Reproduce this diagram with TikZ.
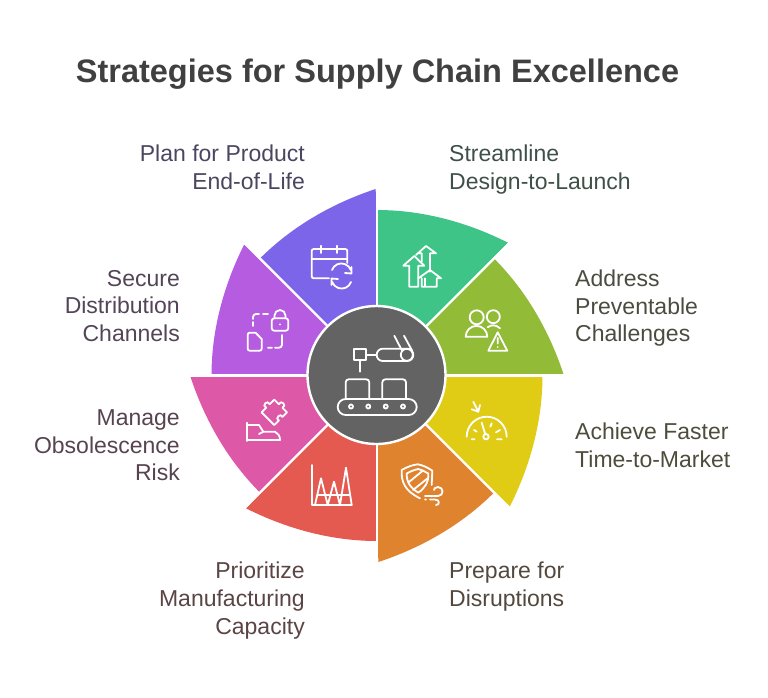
\documentclass[tikz,border=0pt]{standalone}
\usepackage{fontspec}
\setmainfont{Liberation Sans}
\definecolor{pgreen}{HTML}{3EC486}
\definecolor{polive}{HTML}{92BB38}
\definecolor{pyellow}{HTML}{E0CC15}
\definecolor{porange}{HTML}{E0832F}
\definecolor{pred}{HTML}{E55A50}
\definecolor{ppink}{HTML}{DD58A6}
\definecolor{ppurple}{HTML}{B65CE0}
\definecolor{pblue}{HTML}{7C65E8}
\definecolor{hubgrey}{HTML}{636363}
\definecolor{tgreen}{HTML}{3F5048}
\definecolor{tolive}{HTML}{4A4C40}
\definecolor{tyellow}{HTML}{4E4D3C}
\definecolor{torange}{HTML}{53483E}
\definecolor{tred}{HTML}{5A4444}
\definecolor{tpink}{HTML}{574350}
\definecolor{tpurple}{HTML}{534458}
\definecolor{tblue}{HTML}{4A4660}
\tikzset{
  lbl/.style={inner sep=0pt,font=\fontsize{23}{27.7}\selectfont,execute at begin node=\strut,execute at end node=\strut},
  lbll/.style={lbl,anchor=west,align=left},
  lblr/.style={lbl,anchor=east,align=right},
  ico/.style={white,line width=1.8pt,line cap=round,line join=round},
}
\begin{document}
\begin{tikzpicture}[x=1pt,y=-1pt]
    \useasboundingbox (0,0) rectangle (768,697);
    \node[inner sep=0pt,text=black!75,font=\fontsize{32.5}{40}\selectfont\bfseries] (title) at (377.5,74) {Strategies for Supply Chain Excellence};
    % petals
    \foreach \c [count=\i from 0] in {pgreen,polive,pyellow,porange,pred,ppink,ppurple,pblue}
        \fill[\c,shift={(377,375.5)},rotate=-45*\i] (0,0) -- (0,-165.5) .. controls (45,-165.5) and (90,-153.5) .. (131,-132.8) -- cycle;
    \foreach \i in {0,...,7}
        \draw[white,line width=2.4pt,shift={(377,375.5)},rotate=-45*\i] (0,0) -- (0,-195);
    \draw[white,line width=2.4pt,fill=hubgrey] (376.5,375) circle (69);
    % labels
    \node[lbll,text=tgreen] (stream) at (449,171) {Streamline\\Design-to-Launch};
    \node[lbll,text=tolive] (address) at (575,310) {Address\\Preventable\\Challenges};
    \node[lbll,text=tyellow] (achieve) at (575,449.5) {Achieve Faster\\Time-to-Market};
    \node[lbll,text=torange] (prepare) at (449,588.5) {Prepare for\\Disruptions};
    \node[lblr,text=tred] (priority) at (305,602.5) {Prioritize\\Manufacturing\\Capacity};
    \node[lblr,text=tpink] (manage) at (180,449.5) {Manage\\Obsolescence\\Risk};
    \node[lblr,text=tpurple] (secure) at (180,310) {Secure\\Distribution\\Channels};
    \node[lblr,text=tblue] (plan) at (305,171) {Plan for Product\\End-of-Life};
    % hub icon
    \draw[ico] (345.7,398.3) -- (345.7,384) [rounded corners=3] -- (345.7,379.3) -- (369.3,379.3) -- (369.3,398.3);
    \draw[ico] (382.3,398.3) [rounded corners=3] -- (382.3,379.3) -- (406,379.3) -- (406,398.3);
    \draw[ico,rounded corners=8] (337.7,399) rectangle (416.7,415);
    \foreach \x in {351,368.3,385.7,403}
        \draw[ico] (\x,406.5) circle (2);
    \draw[ico] (354.3,349.3) rectangle (365.7,360) (360,360) -- (360,371.7) (365.7,355) -- (376.7,355);
    \draw[ico,rounded corners=6] (376.7,348.7) rectangle (413.3,361);
    \draw[ico] (406.8,354.8) circle (6) (394.3,335.7) -- (401.7,350) (404,335.7) -- (412.3,351);
    % green
    \draw[ico] (414.3,256) -- (403.3,265.7) -- (409.3,265.7) -- (409.3,286.7) -- (418.3,286.7) -- (418.3,265.7) -- (424.3,265.7) -- cycle;
    \draw[ico] (416,255) -- (426,246) -- (436,253.3) -- (430,253.3) -- (430,271.7) (421.7,261.7) -- (421.7,253.3) -- (419,253.3);
    \draw[ico] (418.3,278.3) -- (430,270) -- (441,278.3) -- (436.7,278.3) -- (436.7,286.7) -- (421.7,286.7) -- (421.7,278.3) (425,278.3) -- (425,286.7);
    % olive
    \draw[ico] (476.7,317.3) circle (7) (493.3,316.7) circle (6.5);
    \draw[ico] (465.7,336.7) arc (180:360:10.8) -- cycle;
    \draw[ico] (487.7,327.3) .. controls (491,324.5) and (496,324.5) .. (500,328.3);
    \draw[ico] (497.7,332.3) -- (507.3,350.7) -- (488.3,350.7) -- cycle (497.7,338) -- (497.7,343.5) (497.7,347) -- (497.7,347.1);
    % yellow
    \draw[ico] (466.7,436.7) arc (180:360:20);
    \draw[ico] (486,436.7) circle (2.7) (485.2,434) -- (481.7,422.7);
    \draw[ico] (471.7,439.3) -- (474.5,439.3) (474,430) -- (476.7,431.7) (491.7,423.3) -- (490.3,426.7) (500,430) -- (496,432.3) (497,439.3) -- (501.7,439.3);
    \draw[ico] (473.3,401.7) -- (478.3,411.7) (471.7,409.3) -- (478.3,411.7) -- (480,405);
    % orange
    \draw[ico] (431.7,485) -- (432.3,470.7) .. controls (427,467) and (422,465) .. (417.7,464.3) .. controls (412,465) and (407,467) .. (401.7,470) .. controls (401,482) and (405,491) .. (420,498.3);
    \draw[ico] (406.7,473.5) .. controls (410,471.5) and (414,470) .. (418,469) .. controls (422,470) and (425,471.5) .. (428.3,473.5) .. controls (429,482) and (425,488) .. (418.3,492.7) .. controls (411,488) and (406.5,483) .. (406.7,473.5);
    \draw[ico] (409,482) -- (423,470.5) (413,490) -- (428,478);
    \draw[ico] (425,496) -- (438,496) .. controls (444,496) and (444,487) .. (438,487) .. controls (435,487) and (434,489) .. (434,490);
    \draw[ico] (430,499.5) -- (435,499.5) .. controls (440,499.5) and (440,505) .. (436,505) (425,499.5) -- (426,499.5);
    % red
    \draw[ico] (311.7,465) -- (311.7,505) -- (351.7,505);
    \draw[ico] (315,505) -- (321,478.3) -- (327.7,505) (327.7,505) -- (334,481.7) -- (340,505) (340,505) -- (346,467.7) -- (351.7,505);
    \draw[ico] (317.3,495) -- (350,495);
    % pink
    \draw[ico] (247.3,422.7) -- (247.3,441);
    \draw[ico] (247.3,425) -- (259,425) -- (263.3,431.7) -- (275,431.7) .. controls (278,433) and (280,436) .. (280,440) -- (247.3,440) (263.3,431.7) -- (259,434);
    \begin{scope}[shift={(274.3,412.3)},rotate=45]
        \draw[ico] (-9,-9) -- (-2.5,-9) .. controls (-5,-14) and (5,-14) .. (2.5,-9) -- (9,-9) -- (9,-2.5) .. controls (14,-5) and (14,5) .. (9,2.5) -- (9,9) -- (2.5,9) .. controls (5,4.5) and (-5,4.5) .. (-2.5,9) -- (-9,9) -- cycle;
    \end{scope}
    % purple
    \draw[ico,rounded corners=2.5] (271.7,318.3) rectangle (288.3,330.7);
    \draw[ico] (274.5,318) -- (274.5,315.5) arc (180:360:5.5) -- (285.5,318);
    \draw[ico] (280,324.3) -- (280,324.4);
    \draw[ico,rounded corners=2] (255.5,332.7) -- (247.7,332.7) -- (247.7,350.7) -- (261.7,350.7) -- (261.7,339);
    \draw[ico] (255.5,332.7) -- (261.7,339);
    \draw[ico,rounded corners=3] (253,326) -- (253,322) (253,319) -- (253,314) -- (259,314) (263,314) -- (268,314);
    \draw[ico,rounded corners=3] (282,335) -- (282,347.7) -- (275,347.7) (272,347.7) -- (268,347.7);
    % blue
    \draw[ico,rounded corners=2] (347.3,263) -- (347.3,249) -- (311.7,249) -- (311.7,278.3) -- (329,278.3);
    \draw[ico] (311.7,259.3) -- (347.3,259.3) (321,245.7) -- (321,253) (336.7,245.7) -- (336.7,253);
    \draw[ico] (332,270) arc (200:340:10) (351.5,267) -- (351.5,273.5) -- (345,273);
    \draw[ico] (351,282) arc (20:160:10) (331.5,285) -- (331.5,278.5) -- (338,279);
\end{tikzpicture}
\end{document}
